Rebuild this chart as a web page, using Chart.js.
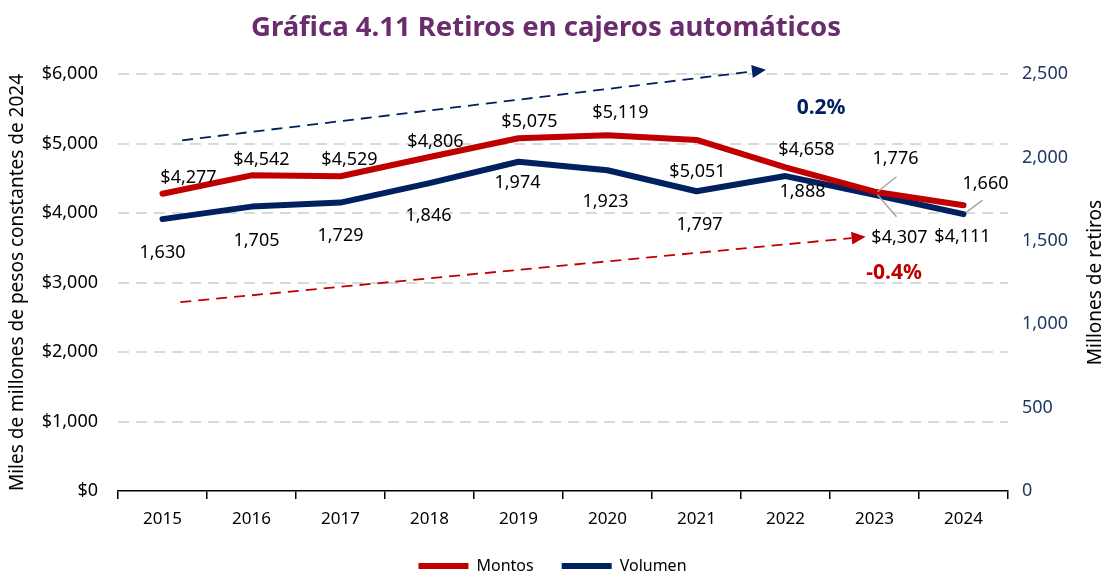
<!DOCTYPE html>
<html lang="es">
<head>
<meta charset="UTF-8">
<meta name="viewport" content="width=device-width, initial-scale=1.0">
<title>Retiros en cajeros automáticos</title>
<script src="https://cdn.jsdelivr.net/npm/chart.js"></script>
<style>
    html, body { margin: 0; padding: 0; background: #fff; }
    .chart-wrap { width: 1105px; height: 573px; position: relative; }
</style>
</head>
<body>
<div class="chart-wrap"><canvas id="retirosChart"></canvas></div>
<script>
    // Datos
    const anios = ['2015', '2016', '2017', '2018', '2019', '2020', '2021', '2022', '2023', '2024'];
    const montos = [4277, 4542, 4529, 4806, 5075, 5119, 5051, 4658, 4307, 4111];
    const volumen = [1630, 1705, 1729, 1846, 1974, 1923, 1797, 1888, 1776, 1660];
    const ticksMontos = [0, 1000, 2000, 3000, 4000, 5000, 6000];
    const ticksVolumen = [0, 500, 1000, 1500, 2000, 2500];
    const tasaVolumen = '0.2%';
    const tasaMontos = '-0.4%';

    const ROJO = '#C00000';
    const AZUL = '#002060';
    const FUENTE = "'Noto Sans', sans-serif";

    const fmt = v => v.toLocaleString('en-US');

    // desplazamiento de cada etiqueta respecto a su punto
    const posMontos = [[26,-16],[10,-15],[9,-16],[6,-15],[11,-16],[13,-22],[1,32],[21,-17],[25,46],[-1,32]];
    const posVolumen = [[0,34],[5,34],[0,33],[-1,33],[-1,21],[-2,32],[3,34],[17,16],[21,-36],[22,-30]];
    // líneas guía hacia algunas etiquetas
    const guias = [
        { ds: 0, i: 8, a: [3, 3], b: [22, 25] },
        { ds: 1, i: 8, a: [3, -3], b: [22, -18] },
        { ds: 1, i: 9, a: [3, -2], b: [19, -14] }
    ];

    const etiquetasPlugin = {
        id: 'etiquetas',
        afterDatasetsDraw(chart) {
            const ctx = chart.ctx;
            ctx.save();
            ctx.strokeStyle = '#A6A6A6';
            ctx.lineWidth = 1.5;
            guias.forEach(g => {
                const p = chart.getDatasetMeta(g.ds).data[g.i];
                ctx.beginPath();
                ctx.moveTo(p.x + g.a[0], p.y + g.a[1]);
                ctx.lineTo(p.x + g.b[0], p.y + g.b[1]);
                ctx.stroke();
            });
            ctx.font = '18px ' + FUENTE;
            ctx.fillStyle = '#000';
            ctx.textAlign = 'center';
            ctx.textBaseline = 'middle';
            chart.getDatasetMeta(0).data.forEach((p, i) => {
                ctx.fillText('$' + fmt(montos[i]), p.x + posMontos[i][0], p.y + posMontos[i][1]);
            });
            chart.getDatasetMeta(1).data.forEach((p, i) => {
                ctx.fillText(fmt(volumen[i]), p.x + posVolumen[i][0], p.y + posVolumen[i][1]);
            });
            ctx.restore();
        }
    };

    // flechas de tendencia y tasas de crecimiento
    function flecha(ctx, x0, y0, x1, y1, color) {
        const ang = Math.atan2(y1 - y0, x1 - x0);
        const largo = 14, ancho = 6.5;
        const bx = x1 - largo * Math.cos(ang), by = y1 - largo * Math.sin(ang);
        ctx.strokeStyle = color;
        ctx.fillStyle = color;
        ctx.lineWidth = 1.8;
        ctx.setLineDash([11, 7]);
        ctx.beginPath();
        ctx.moveTo(x0, y0);
        ctx.lineTo(bx, by);
        ctx.stroke();
        ctx.setLineDash([]);
        ctx.beginPath();
        ctx.moveTo(x1, y1);
        ctx.lineTo(bx + ancho * Math.sin(ang), by - ancho * Math.cos(ang));
        ctx.lineTo(bx - ancho * Math.sin(ang), by + ancho * Math.cos(ang));
        ctx.closePath();
        ctx.fill();
    }

    const tendenciasPlugin = {
        id: 'tendencias',
        afterDatasetsDraw(chart) {
            const { ctx, scales: { x, y } } = chart;
            ctx.save();
            flecha(ctx, x.getPixelForValue(0.22), y.getPixelForValue(5046),
                        x.getPixelForValue(6.78), y.getPixelForValue(6060), AZUL);
            flecha(ctx, x.getPixelForValue(0.2), y.getPixelForValue(2718),
                        x.getPixelForValue(7.9), y.getPixelForValue(3658), ROJO);
            ctx.font = 'bold 21px ' + FUENTE;
            ctx.textAlign = 'center';
            ctx.textBaseline = 'middle';
            ctx.fillStyle = AZUL;
            ctx.fillText(tasaVolumen, x.getPixelForValue(7.4), y.getPixelForValue(5508));
            ctx.fillStyle = ROJO;
            ctx.fillText(tasaMontos, x.getPixelForValue(8.22), y.getPixelForValue(3137));
            ctx.restore();
        }
    };

    // título y nombres de ejes
    function textoVertical(ctx, texto, x, y) {
        ctx.save();
        ctx.textAlign = 'center';
        ctx.textBaseline = 'middle';
        ctx.fillStyle = '#000';
        ctx.font = '19px ' + FUENTE;
        ctx.translate(x, y);
        ctx.rotate(-Math.PI / 2);
        ctx.fillText(texto, 0, 0);
        ctx.restore();
    }

    const textosPlugin = {
        id: 'textos',
        afterDraw(chart) {
            const { ctx, chartArea } = chart;
            const cy = (chartArea.top + chartArea.bottom) / 2;
            ctx.save();
            ctx.textAlign = 'center';
            ctx.textBaseline = 'middle';
            ctx.fillStyle = '#6A2C6C';
            ctx.font = 'bold 27.5px ' + FUENTE;
            ctx.fillText('Gráfica 4.11 Retiros en cajeros automáticos', 546, 28);
            ctx.restore();
            textoVertical(ctx, 'Miles de millones de pesos constantes de 2024', 18, cy);
            textoVertical(ctx, 'Millones de retiros', 1096, cy);
        }
    };

    const serie = (label, data, eje, color) => ({
        label, data, yAxisID: eje,
        borderColor: color,
        backgroundColor: color,
        borderWidth: 6,
        borderCapStyle: 'round',
        borderJoinStyle: 'round',
        pointStyle: 'line',
        pointRadius: 0,
        tension: 0
    });

    new Chart(document.getElementById('retirosChart'), {
        type: 'line',
        data: {
            labels: anios,
            datasets: [
                serie('Montos', montos, 'y', ROJO),
                serie('Volumen', volumen, 'y1', AZUL)
            ]
        },
        options: {
            responsive: true,
            maintainAspectRatio: false,
            animation: false,
            layout: { padding: { top: 74, left: 0, right: 0, bottom: -11 } },
            plugins: {
                title: { display: false },
                tooltip: { enabled: false },
                legend: {
                    position: 'bottom',
                    labels: {
                        usePointStyle: true,
                        pointStyle: 'line',
                        pointStyleWidth: 50,
                        boxHeight: 5,
                        padding: 28,
                        color: '#000',
                        font: { family: FUENTE, size: 16 }
                    }
                }
            },
            scales: {
                x: {
                    offset: true,
                    grid: {
                        offset: true,
                        drawOnChartArea: false,
                        drawTicks: true,
                        tickLength: 8,
                        color: '#000',
                        lineWidth: 1.5
                    },
                    border: { display: true, color: '#000', width: 1.5 },
                    ticks: {
                        color: '#000',
                        padding: 10,
                        maxRotation: 0,
                        font: { family: FUENTE, size: 17 }
                    },
                    afterFit(scale) { scale.height = 39; }
                },
                y: {
                    position: 'left',
                    min: ticksMontos[0],
                    max: ticksMontos[ticksMontos.length - 1],
                    afterBuildTicks(scale) { scale.ticks = ticksMontos.map(v => ({ value: v })); },
                    grid: {
                        drawTicks: false,
                        color: ctx => ctx.tick && ctx.tick.value === 0 ? 'rgba(0,0,0,0)' : '#D9D9D9',
                        lineWidth: 2
                    },
                    border: { display: false, dash: [11, 7] },
                    ticks: {
                        color: '#000',
                        padding: 20,
                        font: { family: FUENTE, size: 18 },
                        callback: v => '$' + fmt(v)
                    },
                    afterFit(scale) { scale.width = 118; }
                },
                y1: {
                    position: 'right',
                    min: ticksVolumen[0],
                    max: ticksVolumen[ticksVolumen.length - 1],
                    afterBuildTicks(scale) { scale.ticks = ticksVolumen.map(v => ({ value: v })); },
                    grid: { display: false, drawTicks: false },
                    border: { display: false },
                    ticks: {
                        color: '#1F3864',
                        padding: 14,
                        font: { family: FUENTE, size: 18 },
                        callback: v => fmt(v)
                    },
                    afterFit(scale) { scale.width = 97; }
                }
            }
        },
        plugins: [tendenciasPlugin, etiquetasPlugin, textosPlugin]
    });
</script>
</body>
</html>
